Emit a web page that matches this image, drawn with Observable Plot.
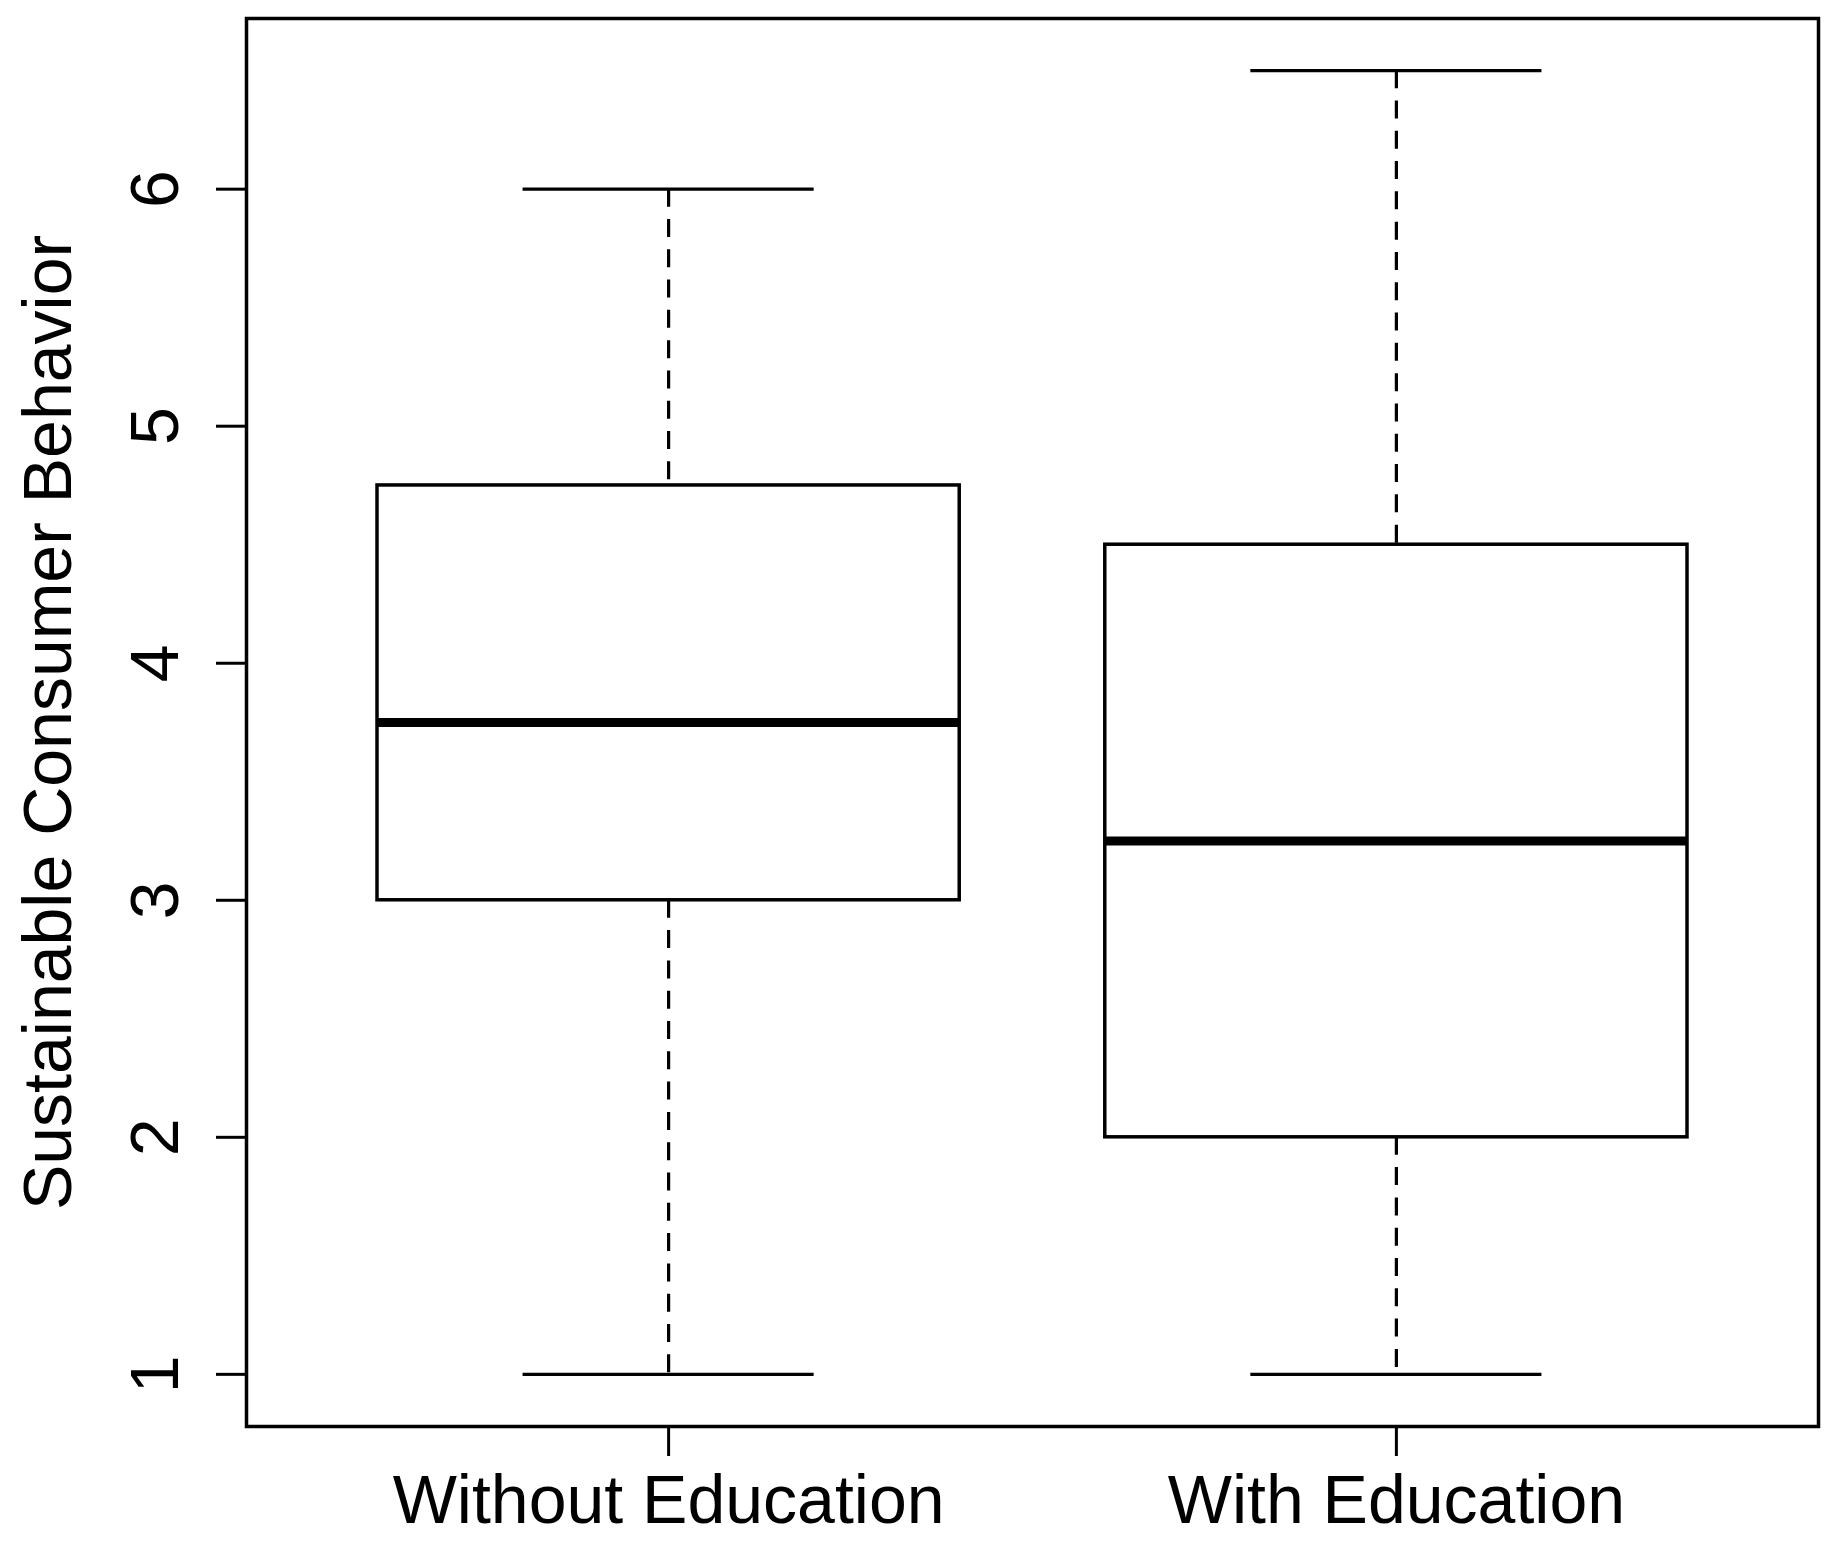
<!DOCTYPE html>
<html>
<head>
<meta charset="utf-8">
<script src="https://cdn.jsdelivr.net/npm/d3@7"></script>
<script src="https://cdn.jsdelivr.net/npm/@observablehq/plot@0.6"></script>
<style>
  html, body { margin: 0; padding: 0; background: #fff; overflow: hidden; }
  #chart svg { display: block; }
</style>
</head>
<body>
<div id="chart"></div>
<script>
const categories = ["Without Education", "With Education"];
const positions = [1, 2];
const mins = [1, 1];
const q1s = [3, 2];
const medians = [3.75, 3.25];
const q3s = [4.75, 4.5];
const maxs = [6, 6.5];
const yTicks = [1, 2, 3, 4, 5, 6];
const yTitle = "Sustainable Consumer Behavior";

const boxes = categories.map((c, i) => ({
  cat: c, pos: positions[i], min: mins[i], q1: q1s[i], med: medians[i], q3: q3s[i], max: maxs[i]
}));

const halfBox = 0.4, halfCap = 0.2;
const dash = "18,12.3";

const chart = Plot.plot({
  width: 1837,
  height: 1556,
  marginLeft: 246,
  marginRight: 19,
  marginTop: 18,
  marginBottom: 130,
  style: { fontFamily: "'Liberation Sans', Arial, Helvetica, sans-serif", background: "#fff", color: "#000" },
  x: { type: "linear", domain: [0.42, 2.58] },
  y: { domain: [0.78, 6.72] },
  marks: [
    // whiskers (dashed)
    Plot.ruleX(boxes, { x: "pos", y1: "max", y2: "q3", stroke: "#000", strokeWidth: 3.2, strokeDasharray: dash }),
    Plot.ruleX(boxes, { x: "pos", y1: "q1", y2: "min", stroke: "#000", strokeWidth: 3.2, strokeDasharray: dash }),
    // caps
    Plot.ruleY(boxes, { y: "max", x1: d => d.pos - halfCap, x2: d => d.pos + halfCap, stroke: "#000", strokeWidth: 3.2 }),
    Plot.ruleY(boxes, { y: "min", x1: d => d.pos - halfCap, x2: d => d.pos + halfCap, stroke: "#000", strokeWidth: 3.2 }),
    // boxes
    Plot.rect(boxes, { x1: d => d.pos - halfBox, x2: d => d.pos + halfBox, y1: "q1", y2: "q3", fill: "#fff", stroke: "#000", strokeWidth: 3.5 }),
    // medians
    Plot.ruleY(boxes, { y: "med", x1: d => d.pos - halfBox, x2: d => d.pos + halfBox, stroke: "#000", strokeWidth: 9 }),
    // frame
    Plot.frame({ stroke: "#000", strokeWidth: 3.5 }),
    // axes
    Plot.axisY({
      ticks: yTicks, tickFormat: d => String(d), tickSize: 30, tickPadding: 39, tickRotate: -90,
      fontSize: 68, strokeWidth: 3, label: null
    }),
    Plot.axisX({
      ticks: positions, tickFormat: d => categories[positions.indexOf(d)], tickSize: 30, tickPadding: 18,
      fontSize: 68, strokeWidth: 3, label: null
    }),
    Plot.text([yTitle], { frameAnchor: "left", text: d => d, rotate: -90, dx: -197, fontSize: 68, fill: "#000", textAnchor: "middle", lineAnchor: "middle" })
  ]
});

document.getElementById("chart").appendChild(chart);
</script>
</body>
</html>
